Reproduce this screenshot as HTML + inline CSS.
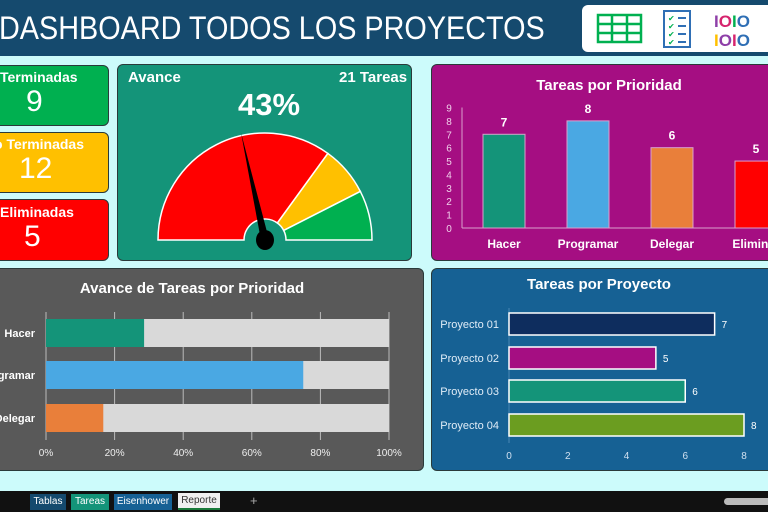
<!DOCTYPE html>
<html><head><meta charset="utf-8"><style>
body{margin:0;width:768px;height:512px;overflow:hidden;background:#ccfbfb;font-family:"Liberation Sans",sans-serif;position:relative}
.card{position:absolute;border-radius:6px;border:1.5px solid #2a3a3a;box-sizing:border-box;color:#fff}
.t{position:absolute;color:#fff;font-weight:bold;white-space:nowrap}
svg text{font-family:"Liberation Sans",sans-serif}
</style></head><body>
<div style="position:absolute;left:0;top:0;width:768px;height:56px;background:#154a6e"></div>
<div class="t" style="left:-1px;top:10px;font-size:32px;font-weight:normal;transform:scaleX(0.9);transform-origin:0 0">DASHBOARD TODOS LOS PROYECTOS</div>
<div style="position:absolute;left:582px;top:5px;width:200px;height:47px;background:#fff;border-radius:6px"></div>
<svg style="position:absolute;left:582px;top:5px" width="186" height="47">
 <g fill="none" stroke="#00b050" stroke-width="2.5"><rect x="16" y="10" width="43" height="27"/><line x1="16" y1="19" x2="59" y2="19"/><line x1="16" y1="28" x2="59" y2="28"/><line x1="30" y1="10" x2="30" y2="37"/><line x1="45" y1="10" x2="45" y2="37"/></g>
 <g><rect x="82" y="6" width="26" height="36" fill="none" stroke="#2f6fb5" stroke-width="2"/>
 <text x="86" y="16" font-size="8" fill="#00b050">✔</text><text x="86" y="24" font-size="8" fill="#00b050">✔</text><text x="86" y="32" font-size="8" fill="#00b050">✔</text><text x="86" y="40" font-size="8" fill="#00b050">✔</text>
 <g stroke="#2f6fb5" stroke-width="2"><line x1="96" y1="13" x2="104" y2="13"/><line x1="96" y1="21" x2="104" y2="21"/><line x1="96" y1="29" x2="104" y2="29"/><line x1="96" y1="37" x2="104" y2="37"/></g></g>
 <g font-size="17" font-weight="bold"><text x="132" y="22" fill="#8e3fa8">I<tspan fill="#d6246e">O</tspan><tspan fill="#00b050">I</tspan><tspan fill="#2f6fb5">O</tspan></text><text x="132" y="41" fill="#ffc000">I<tspan fill="#8e3fa8">O</tspan><tspan fill="#d6246e">I</tspan><tspan fill="#2f6fb5">O</tspan></text></g>
</svg>

<div class="card" style="left:-10px;top:65px;width:119px;height:61px;background:#00b050"></div>
<div class="t" style="left:0;top:69px;font-size:14px">Terminadas</div>
<div class="t" style="left:26px;top:85px;font-size:30px;font-weight:normal">9</div>
<div class="card" style="left:-10px;top:132px;width:119px;height:61px;background:#ffc000"></div>
<div class="t" style="left:-6px;top:136px;font-size:14px">o Terminadas</div>
<div class="t" style="left:19px;top:152px;font-size:30px;font-weight:normal">12</div>
<div class="card" style="left:-10px;top:199px;width:119px;height:62px;background:#ff0000"></div>
<div class="t" style="left:0;top:204px;font-size:14px">Eliminadas</div>
<div class="t" style="left:24px;top:220px;font-size:30px;font-weight:normal">5</div>

<div class="card" style="left:117px;top:64px;width:295px;height:197px;background:#149479"></div>
<div class="t" style="left:128px;top:69px;font-size:15px">Avance</div>
<div class="t" style="left:339px;top:69px;font-size:15px">21 Tareas</div>
<div class="t" style="left:238px;top:87px;font-size:31px">43%</div>
<svg id="gauge" style="position:absolute;left:117px;top:64px" width="295" height="197"></svg>

<div class="card" style="left:431px;top:64px;width:350px;height:197px;background:#a50e82"></div>
<svg id="prio" style="position:absolute;left:431px;top:64px" width="337" height="197"></svg>

<div class="card" style="left:-10px;top:268px;width:434px;height:203px;background:#595959"></div>
<svg id="avp" style="position:absolute;left:0;top:268px" width="424" height="203"></svg>

<div class="card" style="left:431px;top:268px;width:350px;height:203px;background:#166194"></div>
<svg id="proj" style="position:absolute;left:431px;top:268px" width="337" height="203"></svg>

<div style="position:absolute;left:0;top:491px;width:768px;height:21px;background:#111"></div>
<div style="position:absolute;left:30px;top:494px;width:36px;height:16px;background:#154a6e;color:#fff;font-size:10px;text-align:center;line-height:16px">Tablas</div>
<div style="position:absolute;left:71px;top:494px;width:38px;height:16px;background:#149479;color:#fff;font-size:10px;text-align:center;line-height:16px">Tareas</div>
<div style="position:absolute;left:114px;top:494px;width:58px;height:16px;background:#166194;color:#fff;font-size:10px;text-align:center;line-height:16px">Eisenhower</div>
<div style="position:absolute;left:178px;top:493px;width:42px;height:17px;background:#f0f0f0;color:#333;font-size:10px;text-align:center;line-height:16px;border-bottom:2px solid #1a7a3a;box-sizing:border-box">Reporte</div>
<div style="position:absolute;left:250px;top:493px;color:#aaa;font-size:13px">+</div>
<div style="position:absolute;left:724px;top:498px;width:50px;height:7px;background:#bbb;border-radius:4px"></div>

<script>
const NS='http://www.w3.org/2000/svg';
function mk(p,tag,a,txt){const e=document.createElementNS(NS,tag);for(const k in a)e.setAttribute(k,a[k]);if(txt!==undefined)e.textContent=txt;p.appendChild(e);return e;}

// Gauge data
const gaugeBands=[70,15,15];
const gaugeColors=['#ff0000','#ffc000','#00b050'];
const gaugeValue=43;

// Prioridad data
const prioCats=['Hacer','Programar','Delegar','Eliminar'];
const prioVals=[7,8,6,5];
const prioColors=['#149479','#4aa8e3','#e97f3a','#ff0000'];
const prioTicks=[0,1,2,3,4,5,6,7,8,9];

// Avance por prioridad data
const avCats=['Hacer','Programar','Delegar'];
const avVals=[28.6,75,16.7];
const avColors=['#149479','#4aa8e3','#e97f3a'];
const avTicks=[0,20,40,60,80,100];

// Proyecto data
const projCats=['Proyecto 01','Proyecto 02','Proyecto 03','Proyecto 04'];
const projVals=[7,5,6,8];
const projColors=['#0e2d5e','#a50e82','#149479','#6b9d20'];
const projTicks=[0,2,4,6,8];

// Gauge
(function(){
 const g=document.getElementById('gauge');const cx=148,cy=176,R=107,r=21;
 function pt(a,rad){return [cx+rad*Math.cos(a),cy-rad*Math.sin(a)];}
 let acc=0;
 gaugeBands.forEach((b,i)=>{
  const a0=Math.PI*(1-acc/100),a1=Math.PI*(1-(acc+b)/100);acc+=b;
  const p0=pt(a0,R),p1=pt(a1,R),q1=pt(a1,r),q0=pt(a0,r);
  const s=mk(g,'path',{d:`M${p0} A${R},${R} 0 0 1 ${p1} L${q1} A${r},${r} 0 0 0 ${q0} Z`,fill:gaugeColors[i],stroke:'#fff','stroke-width':1.5});
  
  
 });
 const a=Math.PI*(1-gaugeValue/100);const tip=pt(a,R+3);
 const pa=a+Math.PI/2;const w=4;
 const n=mk(g,'polygon',{points:`${tip} ${cx+w*Math.cos(pa)},${cy-w*Math.sin(pa)} ${cx-w*Math.cos(pa)},${cy+w*Math.sin(pa)}`,fill:'#000'});
 
 
 const c=mk(g,'ellipse',{cx:cx,cy:cy,rx:9,ry:10,fill:'#000'});
 
 
})();

// Prioridad chart
(function(){
 const g=document.getElementById('prio');
 const y0=164,yMax=43.5,ax=31;const y=v=>y0-(y0-yMax)*v/9;
 const t=mk(g,'text',{x:178,y:26,'font-size':15,'font-weight':'bold',fill:'#fff','text-anchor':'middle'},'Tareas por Prioridad');
 
 
 mk(g,'line',{x1:ax,y1:y(9),x2:ax,y2:y0,stroke:'#d9a0cc'});
 mk(g,'line',{x1:ax,y1:y0,x2:337,y2:y0,stroke:'#d9a0cc'});
 prioTicks.forEach(v=>{const e=mk(g,'text',{x:18,y:y(v)+4,'font-size':10,fill:'#f0d0ea','text-anchor':'middle'},v);
  
  });
 const step=84,first=73,bw=42;
 prioCats.forEach((c,i)=>{const cx=first+i*step;
  const b=mk(g,'rect',{x:cx-bw/2,y:y(prioVals[i]),width:bw,height:y0-y(prioVals[i]),fill:prioColors[i],stroke:'#d9a0cc','stroke-width':1});
  
  
  const v=mk(g,'text',{x:cx,y:y(prioVals[i])-8,'font-size':12,'font-weight':'bold',fill:'#fff','text-anchor':'middle'},prioVals[i]);
  
  
  const l=mk(g,'text',{x:cx,y:184,'font-size':12,'font-weight':'bold',fill:'#fff','text-anchor':'middle'},c);
  
  
 });
})();

// Avance por prioridad
(function(){
 const g=document.getElementById('avp');
 const x0=46,x1=389;const x=v=>x0+(x1-x0)*v/100;
 const t=mk(g,'text',{x:192,y:25,'font-size':15,'font-weight':'bold',fill:'#fff','text-anchor':'middle'},'Avance de Tareas por Prioridad');
 
 
 avTicks.forEach(v=>{mk(g,'line',{x1:x(v),y1:44,x2:x(v),y2:172,stroke:'#bbb','stroke-width':1});
  const e=mk(g,'text',{x:x(v),y:188,'font-size':10,fill:'#eee','text-anchor':'middle'},v+'%');
  
  });
 const rows=[65,107,150],h=28;
 avCats.forEach((c,i)=>{const yc=rows[i];
  const bg=mk(g,'rect',{x:x0,y:yc-h/2,width:x1-x0,height:h,fill:'#d9d9d9'});
  
  
  const b=mk(g,'rect',{x:x0,y:yc-h/2,width:x(avVals[i])-x0,height:h,fill:avColors[i]});
  
  
  const l=mk(g,'text',{x:35,y:yc+4,'font-size':11,'font-weight':'bold',fill:'#fff','text-anchor':'end'},c);
  
  
 });
})();

// Proyecto
(function(){
 const g=document.getElementById('proj');
 const x0=78,x1=313;const x=v=>x0+(x1-x0)*v/8;
 const t=mk(g,'text',{x:168,y:21,'font-size':15,'font-weight':'bold',fill:'#fff','text-anchor':'middle'},'Tareas por Proyecto');
 
 
 mk(g,'line',{x1:x0,y1:40,x2:x0,y2:175,stroke:'#4a86b4'});
 projTicks.forEach(v=>{const e=mk(g,'text',{x:x(v),y:191,'font-size':10,fill:'#d0e0f0','text-anchor':'middle'},v);
  
  });
 const rows=[56,90,123,157],h=22;
 projCats.forEach((c,i)=>{const yc=rows[i];
  const b=mk(g,'rect',{x:x0,y:yc-h/2,width:x(projVals[i])-x0,height:h,fill:projColors[i],stroke:'#fff','stroke-width':1.5});
  
  
  const v=mk(g,'text',{x:x(projVals[i])+7,y:yc+4,'font-size':10,fill:'#fff'},projVals[i]);
  
  
  const l=mk(g,'text',{x:68,y:yc+4,'font-size':11,fill:'#e0ecf7','text-anchor':'end'},c);
  
  
 });
})();
</script>
</body></html>
